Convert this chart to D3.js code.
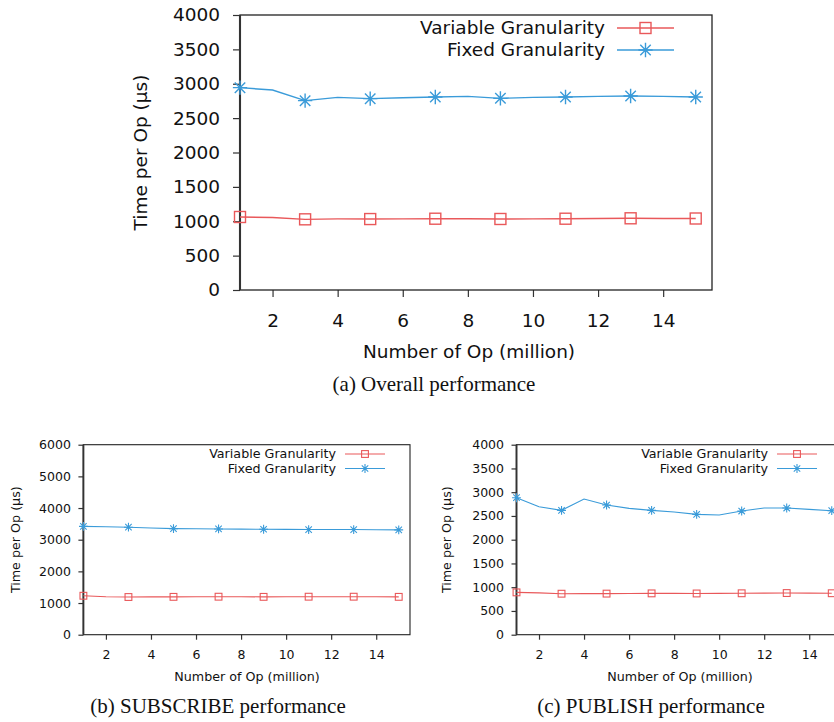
<!DOCTYPE html>
<html>
<head>
<meta charset="utf-8">
<script src="https://cdn.jsdelivr.net/npm/d3@7"></script>
<style>
  body { margin: 0; background: #fff; }
  svg text { font-family: "DejaVu Sans", sans-serif; fill: #111; }
  svg text.caption { font-family: "Liberation Serif", "Times New Roman", serif; }
</style>
</head>
<body>
<div id="chart"></div>
<script>
// x values: number of ops (million)
const ops = [1, 2, 3, 4, 5, 6, 7, 8, 9, 10, 11, 12, 13, 14, 15];
const xTicks = [2, 4, 6, 8, 10, 12, 14];
const seriesNames = ["Variable Granularity", "Fixed Granularity"];

// (a) overall
const overallVariable = [1062, 1055, 1028, 1035, 1032, 1035, 1037, 1037, 1033, 1035, 1037, 1040, 1043, 1040, 1040];
const overallFixed    = [2943, 2909, 2754, 2802, 2783, 2797, 2807, 2817, 2788, 2802, 2807, 2817, 2822, 2817, 2807];
// (b) subscribe
const subVariable = [1230, 1200, 1190, 1195, 1195, 1200, 1200, 1198, 1195, 1198, 1200, 1200, 1200, 1198, 1195];
const subFixed    = [3420, 3410, 3395, 3370, 3350, 3345, 3340, 3335, 3330, 3325, 3320, 3320, 3320, 3315, 3310];
// (c) publish
const pubVariable = [891, 880, 863, 865, 865, 868, 870, 870, 868, 870, 872, 875, 877, 875, 873];
const pubFixed    = [2884, 2695, 2618, 2856, 2730, 2660, 2618, 2582, 2533, 2519, 2604, 2667, 2667, 2638, 2611];

const red = "#e9585a", blue = "#3a9bd9";

const svg = d3.select("#chart").append("svg")
    .attr("width", 834).attr("height", 722);

function drawPanel(p) {
    const x = d3.scaleLinear().domain([1, 15.5]).range([p.left, p.right]);
    const y = d3.scaleLinear().domain([0, p.yMax]).range([p.bottom, p.top]);
    const g = svg.append("g");
    const fs = p.font;

    // axes
    const ya = g.append("g").attr("transform", `translate(${p.left},0)`)
        .call(d3.axisLeft(y).tickValues(d3.range(0, p.yMax + 1, p.yStep))
            .tickFormat(d3.format("d"))
            .tickSize(p.tick).tickPadding(p.pad).tickSizeOuter(0));
    const xa = g.append("g").attr("transform", `translate(0,${p.bottom})`)
        .call(d3.axisBottom(x).tickValues(xTicks)
            .tickSize(p.tick).tickPadding(p.xpad).tickSizeOuter(0));
    [ya, xa].forEach(a => {
        a.attr("font-family", null);
        a.select(".domain").remove();
        a.selectAll("line").attr("stroke", "#333").attr("stroke-width", 1.2);
        a.selectAll("text").attr("font-size", fs).attr("fill", "#111");
    });

    // border
    g.append("rect").attr("x", p.left).attr("y", p.top)
        .attr("width", p.right - p.left).attr("height", p.bottom - p.top)
        .attr("fill", "none").attr("stroke", "#222").attr("stroke-width", p.border);
    g.append("line").attr("x1", p.left).attr("x2", p.left)
        .attr("y1", p.top).attr("y2", p.bottom)
        .attr("stroke", "#333").attr("stroke-width", p.border + 0.8);

    const line = d3.line().x((d, i) => x(ops[i])).y(d => y(d));
    const sets = [
        {vals: p.variable, color: red, shape: "square"},
        {vals: p.fixed, color: blue, shape: "star"}
    ];

    function marker(sel, shape, cx, cy, color) {
        const s = p.mark;
        if (shape === "square") {
            sel.append("rect").attr("x", cx - s).attr("y", cy - s)
                .attr("width", 2 * s).attr("height", 2 * s)
                .attr("fill", "none").attr("stroke", color).attr("stroke-width", p.lw);
        } else {
            const d = s * 0.95, h = s * 1.3;
            sel.append("path")
                .attr("d", `M${cx - h},${cy}L${cx + h},${cy}M${cx},${cy - h}L${cx},${cy + h}` +
                    `M${cx - d},${cy - d}L${cx + d},${cy + d}M${cx - d},${cy + d}L${cx + d},${cy - d}`)
                .attr("stroke", color).attr("stroke-width", p.lw).attr("fill", "none");
        }
    }

    const clip = "clip" + p.id;
    svg.append("clipPath").attr("id", clip).append("rect")
        .attr("x", p.left - 20).attr("y", p.top - 20)
        .attr("width", p.right - p.left + 40).attr("height", p.bottom - p.top + 40);
    const plot = g.append("g").attr("clip-path", `url(#${clip})`);

    sets.forEach(s => {
        plot.append("path").datum(s.vals)
            .attr("d", line).attr("fill", "none")
            .attr("stroke", s.color).attr("stroke-width", p.lw);
        s.vals.forEach((v, i) => {
            if (i % 2 === 0) marker(plot, s.shape, x(ops[i]), y(v), s.color);
        });
    });

    // legend
    sets.forEach((s, i) => {
        const ly = p.legY[i];
        g.append("text").attr("x", p.legText).attr("y", ly).attr("dy", "0.35em")
            .attr("text-anchor", "end").attr("font-size", p.legFont).text(seriesNames[i]);
        g.append("line").attr("x1", p.legLine[0]).attr("x2", p.legLine[1])
            .attr("y1", ly).attr("y2", ly)
            .attr("stroke", s.color).attr("stroke-width", p.lw);
        marker(g, s.shape, (p.legLine[0] + p.legLine[1]) / 2, ly, s.color);
    });

    // labels
    g.append("text")
        .attr("transform", `translate(${p.yLabelX},${(p.top + p.bottom) / 2}) rotate(-90)`)
        .attr("text-anchor", "middle").attr("dy", "0.35em")
        .attr("font-size", p.labelFont).text("Time per Op (µs)");
    g.append("text").attr("x", p.xLabelX).attr("y", p.xLabelY)
        .attr("text-anchor", "middle").attr("font-size", p.labelFont)
        .text("Number of Op (million)");
    g.append("text").attr("class", "caption")
        .attr("x", p.capX).attr("y", p.capY)
        .attr("text-anchor", "middle").attr("font-size", p.capFont)
        .text(p.caption);
}

drawPanel({
    id: "a", left: 240, right: 712, top: 15, bottom: 290,
    yMax: 4000, yStep: 500, variable: overallVariable, fixed: overallFixed,
    font: 18.5, tick: 7, pad: 13, xpad: 17, border: 1.3, lw: 1.4, mark: 5.5,
    legText: 605, legLine: [617, 674], legY: [28, 50], legFont: 18.5,
    yLabelX: 141, xLabelX: 469, xLabelY: 358, labelFont: 18.5,
    capX: 434, capY: 391, capFont: 21, caption: "(a) Overall performance"
});

drawPanel({
    id: "b", left: 83.4, right: 410, top: 444.7, bottom: 634.7,
    yMax: 6000, yStep: 1000, variable: subVariable, fixed: subFixed,
    font: 12.5, tick: 5, pad: 7.5, xpad: 10, border: 1.1, lw: 1.1, mark: 3.4,
    legText: 336, legLine: [345, 385], legY: [454, 468.5], legFont: 12.7,
    yLabelX: 16, xLabelX: 247, xLabelY: 681, labelFont: 12.7,
    capX: 218, capY: 713, capFont: 21, caption: "(b) SUBSCRIBE performance"
});

drawPanel({
    id: "c", left: 516.5, right: 843, top: 444.7, bottom: 634.7,
    yMax: 4000, yStep: 500, variable: pubVariable, fixed: pubFixed,
    font: 12.5, tick: 5, pad: 7.5, xpad: 10, border: 1.1, lw: 1.1, mark: 3.4,
    legText: 768, legLine: [777, 817], legY: [454, 468.5], legFont: 12.7,
    yLabelX: 447, xLabelX: 680, xLabelY: 681, labelFont: 12.7,
    capX: 651, capY: 713, capFont: 21, caption: "(c) PUBLISH performance"
});
</script>
</body>
</html>
